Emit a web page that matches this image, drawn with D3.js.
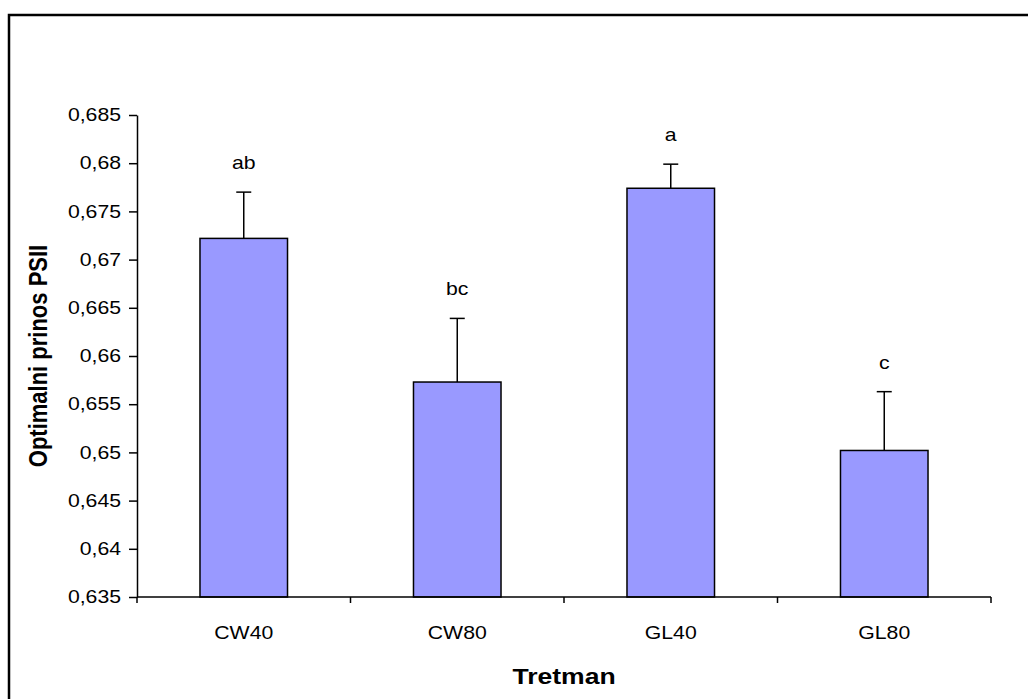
<!DOCTYPE html>
<html><head><meta charset="utf-8">
<script src="https://cdn.jsdelivr.net/npm/d3@7"></script>
<style>body{margin:0;background:#fff}svg{display:block}text{font-family:"Liberation Sans",Arial,sans-serif}</style>
</head><body>
<script>
const categories = ["CW40","CW80","GL40","GL80"];
const means = [0.6722, 0.6573, 0.6774, 0.6502];
const errors = [0.0048, 0.0066, 0.0025, 0.0061];
const letters = ["ab","bc","a","c"];
const yTicks = [0.635,0.64,0.645,0.65,0.655,0.66,0.665,0.67,0.675,0.68,0.685];

const W=1028,H=699, SX=1.18, FS=18;
const svg=d3.select("body").append("svg").attr("width",W).attr("height",H);
svg.append("rect").attr("x",9).attr("y",15).attr("width",1100).attr("height",800)
  .attr("fill","none").attr("stroke","#000").attr("stroke-width",2.5);

const pL=137,pR=991,pT=115,pB=597;
const x=d3.scaleBand().domain(categories).range([pL,pR]).paddingInner(0.59).paddingOuter(0.295);
const y=d3.scaleLinear().domain([0.635,0.685]).range([pB,pT]);

const fmt=d=>String(+d.toFixed(3)).replace(".",",");
const yAxis=svg.append("g").attr("transform",`translate(${pL},0)`)
  .call(d3.axisLeft(y).tickValues(yTicks).tickFormat(fmt).tickSize(8).tickSizeOuter(0).tickPadding(8));
yAxis.select(".domain").attr("stroke-width",1.5);
yAxis.selectAll(".tick line").attr("stroke-width",1.5);
yAxis.selectAll("text").attr("font-size",FS).attr("fill","#000")
  .attr("font-family","Liberation Sans, Arial, sans-serif")
  .attr("x",-16/SX).attr("transform",`scale(${SX},1)`);

function stext(px,py,str,size,bold){
  return svg.append("text").attr("transform",`translate(${px},${py}) scale(${SX},1)`)
    .attr("text-anchor","middle").attr("font-size",size).attr("font-weight",bold?"bold":"normal").text(str);
}

// bars
svg.selectAll(".bar").data(categories).enter().append("rect")
  .attr("x",d=>x(d)).attr("width",x.bandwidth())
  .attr("y",(d,i)=>y(means[i])).attr("height",(d,i)=>pB-y(means[i]))
  .attr("fill","#9999FF").attr("stroke","#000").attr("stroke-width",1.5);

// error bars
categories.forEach((c,i)=>{
  const cx=x(c)+x.bandwidth()/2;
  svg.append("line").attr("x1",cx).attr("x2",cx).attr("y1",y(means[i])).attr("y2",y(means[i]+errors[i])).attr("stroke","#000").attr("stroke-width",1.5);
  svg.append("line").attr("x1",cx-7.5).attr("x2",cx+7.5).attr("y1",y(means[i]+errors[i])).attr("y2",y(means[i]+errors[i])).attr("stroke","#000").attr("stroke-width",1.5);
  stext(cx, y(means[i]+errors[i])-23, letters[i], FS, false);
});

// x axis
const step=(pR-pL)/categories.length;
svg.append("line").attr("x1",pL).attr("x2",pR).attr("y1",pB).attr("y2",pB).attr("stroke","#000").attr("stroke-width",1.5);
d3.range(categories.length+1).forEach(k=>{
  svg.append("line").attr("x1",pL+k*step).attr("x2",pL+k*step).attr("y1",pB).attr("y2",pB+6).attr("stroke","#000").attr("stroke-width",1.5);
});
categories.forEach(c=>{ stext(x(c)+x.bandwidth()/2, 639, c, FS, false); });

stext(564, 684, "Tretman", 22.5, true);
svg.append("text").attr("transform",`translate(47,356) scale(${SX},1) rotate(-90)`)
  .attr("text-anchor","middle").attr("font-size",22).attr("font-weight","bold").text("Optimalni prinos PSII");
</script>
</body></html>
